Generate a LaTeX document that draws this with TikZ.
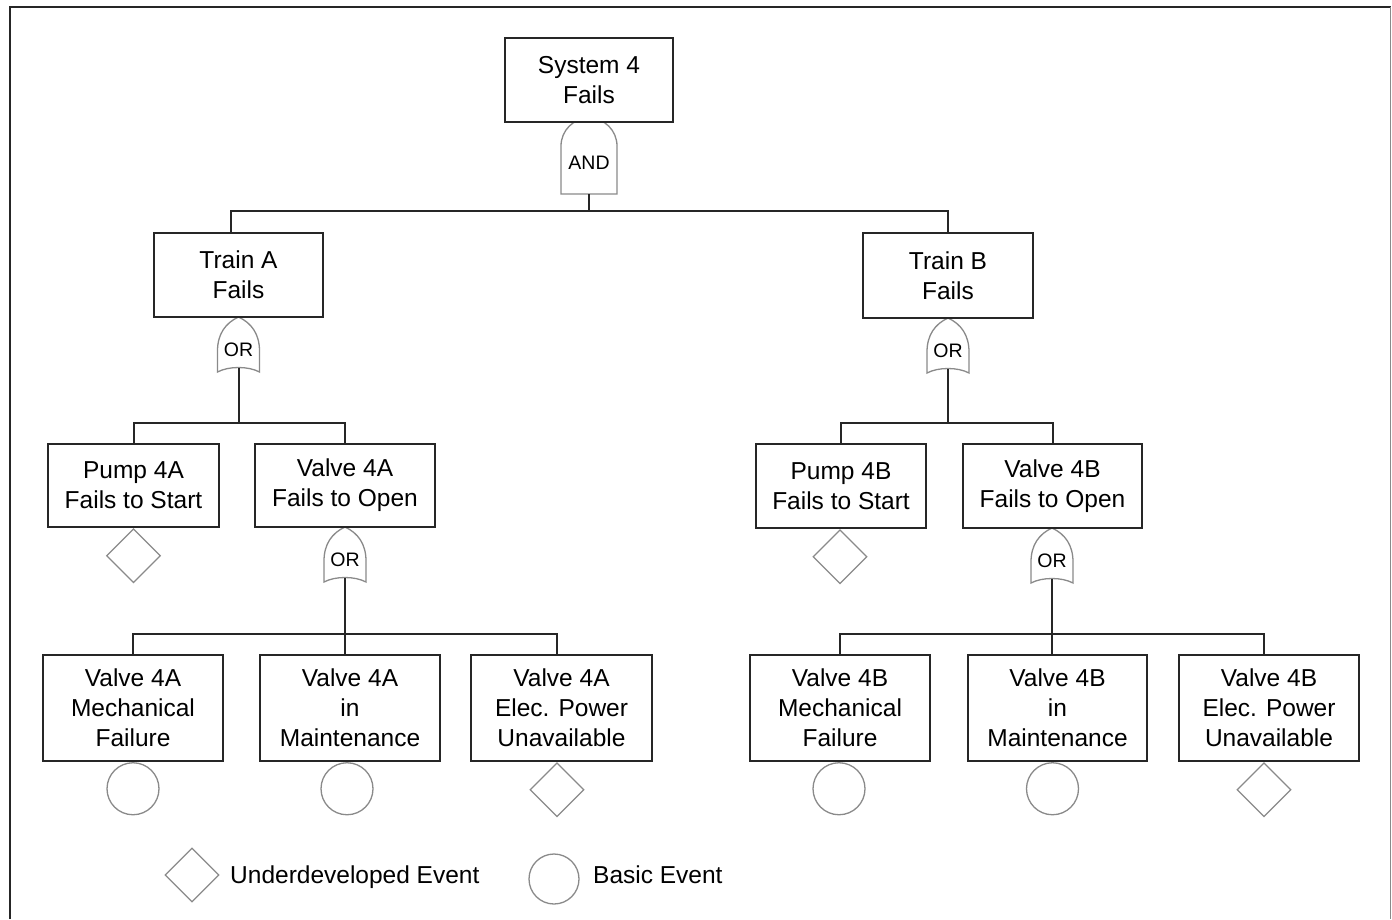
\documentclass[tikz,border=0pt]{standalone}
\usepackage{fontspec}
\setmainfont{Liberation Sans}
\usetikzlibrary{shapes.geometric}
\definecolor{ink}{HTML}{262626}
\definecolor{gateline}{HTML}{8A8A8A}

\tikzset{
  event/.style={draw=ink, line width=2.2pt, fill=white, align=center, inner sep=0pt,
    font=\fontsize{24.5}{30}\selectfont},
  wire/.style={draw=ink, line width=2pt},
  gate/.style={draw=gateline, line width=1.3pt, fill=white},
  gatelabel/.style={inner sep=0pt, font=\fontsize{19.5}{21}\selectfont},
  undev/.style={diamond, draw=gateline, line width=1.3pt, fill=white,
    minimum width=54pt, minimum height=54pt, inner sep=0pt, anchor=north},
  basic/.style={circle, draw=gateline, line width=1.3pt, fill=white,
    minimum size=52pt, inner sep=0pt, anchor=north},
  legendtext/.style={inner sep=0pt, anchor=base west, font=\fontsize{24.5}{30}\selectfont},
  % OR gate: origin at the pointed top
  orgate/.pic={
    \draw[gate] (0,0) .. controls (13,6) and (21,17) .. (21,34) -- (21,55)
      .. controls (10,49) and (-10,49) .. (-21,55) -- (-21,34)
      .. controls (-21,17) and (-13,6) .. cycle;
    \node[gatelabel] (-label) at (0,33) {OR};
    \coordinate (-out) at (0,51);
  },
  % AND gate: origin at the top of the dome
  andgate/.pic={
    \draw[gate] (-28,76) -- (-28,28) .. controls (-28,12.5) and (-15.5,0) .. (0,0)
      .. controls (15.5,0) and (28,12.5) .. (28,28) -- (28,76) -- cycle;
    \node[gatelabel] (-label) at (0,45) {AND};
    \coordinate (-out) at (0,76);
  },
}

\begin{document}
\begin{tikzpicture}[x=1pt, y=-1pt]
\useasboundingbox (0,0) rectangle (1392,919);

% frame
\draw[ink, line width=2pt] (9.5,919) -- (9.5,7) -- (1391,7);
\draw[gateline, line width=1.2pt] (1390.5,7) -- (1390.5,919);

% gates
\pic (gTop) at (589,118) {andgate};
\pic (gTrA) at (238.5,317) {orgate};
\pic (gTrB) at (948,318) {orgate};
\pic (gVA) at (345,527) {orgate};
\pic (gVB) at (1052,528) {orgate};

% events
\node[event, minimum width=168pt, minimum height=84pt] (sys) at (589,80) {System 4\\Fails};

\node[event, minimum width=169pt, minimum height=84pt] (trA) at (238.5,275) {Train A\\Fails};
\node[event, minimum width=170pt, minimum height=85pt] (trB) at (948,275.5) {Train B\\Fails};

\node[event, minimum width=171pt, minimum height=83pt] (pA) at (133.5,485.5) {Pump 4A\\Fails to Start};
\node[event, minimum width=180pt, minimum height=83pt] (vA) at (345,485.5) {Valve 4A\\Fails to Open};
\node[event, minimum width=170pt, minimum height=84pt] (pB) at (841,486) {Pump 4B\\Fails to Start};
\node[event, minimum width=179pt, minimum height=84pt] (vB) at (1052.5,486) {Valve 4B\\Fails to Open};

\node[event, minimum width=180pt, minimum height=106pt] (mA) at (133,708) {Valve 4A\\Mechanical\\Failure};
\node[event, minimum width=180pt, minimum height=106pt] (iA) at (350,708) {Valve 4A\\in\\Maintenance};
\node[event, minimum width=181pt, minimum height=106pt] (eA) at (561.5,708) {Valve 4A\\Elec. Power\\Unavailable};
\node[event, minimum width=180pt, minimum height=106pt] (mB) at (840,708) {Valve 4B\\Mechanical\\Failure};
\node[event, minimum width=179pt, minimum height=106pt] (iB) at (1057.5,708) {Valve 4B\\in\\Maintenance};
\node[event, minimum width=180pt, minimum height=106pt] (eB) at (1269,708) {Valve 4B\\Elec. Power\\Unavailable};

% bus levels
\coordinate (busTop) at (0,211);
\coordinate (busMid) at (0,422.5);
\coordinate (busLow) at (0,634);

% connectors
\draw[wire] (gTop-out) -- (gTop-out |- busTop) -| ([xshift=-7.5pt]trA.north);
\draw[wire] (gTop-out |- busTop) -| (trB.north);

\draw[wire] (gTrA-out) -- (gTrA-out |- busMid) -| (pA.north);
\draw[wire] (gTrA-out |- busMid) -| (vA.north);
\draw[wire] (gTrB-out) -- (gTrB-out |- busMid) -| (pB.north);
\draw[wire] (gTrB-out |- busMid) -| (vB.north);

\draw[wire] (gVA-out) -- (gVA-out |- iA.north);
\draw[wire] (gVA-out |- busLow) -| (mA.north);
\draw[wire] (gVA-out |- busLow) -| ([xshift=-4.5pt]eA.north);
\draw[wire] (gVB-out) -- (gVB-out |- iB.north);
\draw[wire] (gVB-out |- busLow) -| (mB.north);
\draw[wire] (gVB-out |- busLow) -| ([xshift=-5pt]eB.north);

% terminal event symbols
\node[undev] (dpA) at (pA.south) {};
\node[undev] (dpB) at ([xshift=-1pt]pB.south) {};
\node[undev] (deA) at ([xshift=-4.5pt]eA.south) {};
\node[undev] (deB) at ([xshift=-5pt]eB.south) {};
\node[basic] (cmA) at (mA.south) {};
\node[basic] (ciA) at ([xshift=-3pt]iA.south) {};
\node[basic] (cmB) at ([xshift=-1pt]mB.south) {};
\node[basic] (ciB) at ([xshift=-5pt]iB.south) {};

% legend
\node[undev, anchor=center] (legD) at (192,875) {};
\node[legendtext] (legDtext) at (230,883) {Underdeveloped Event};
\node[basic, anchor=center, minimum size=50pt] (legC) at (554,879) {};
\node[legendtext] (legCtext) at (593,883) {Basic Event};
\end{tikzpicture}
\end{document}
